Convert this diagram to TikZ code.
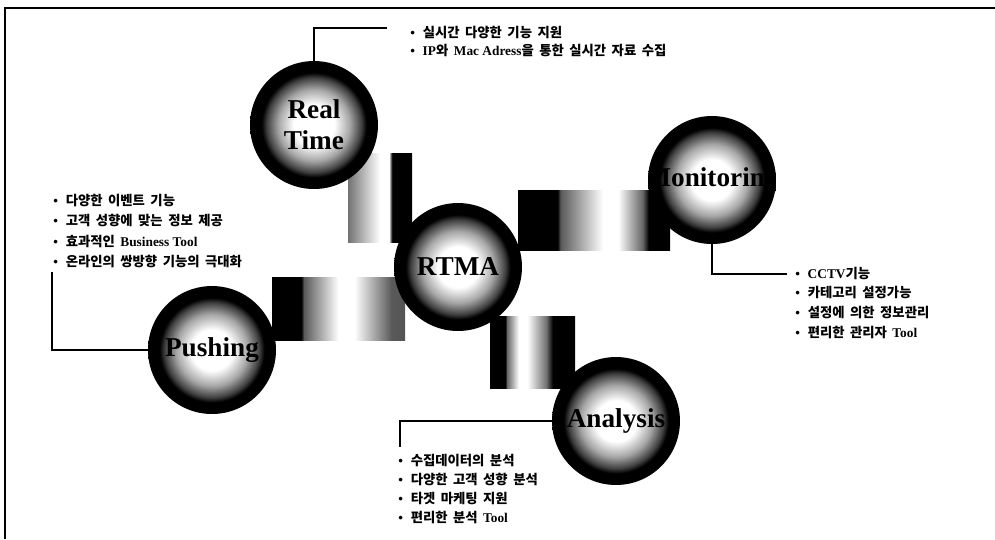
\documentclass[tikz,border=0pt]{standalone}
\usepackage{fontspec}
\setmainfont{Liberation Serif}
\newfontfamily\kor{Noto Sans CJK KR}[WordSpace=1.8]
\newcommand\lat[1]{{\rmfamily\bfseries #1}}

% glow inside the black discs
\pgfdeclareradialshading{glow}{\pgfpoint{0bp}{0bp}}{color(0bp)=(white); color(8bp)=(white); color(14bp)=(black!35); color(18.5bp)=(black!75); color(20.5bp)=(black); color(50bp)=(black)}
% the four connecting bars
\pgfdeclarehorizontalshading{bara}{100bp}{color(0bp)=(black!55); color(25bp)=(black!55); color(50bp)=(white); color(57bp)=(white); color(59.5bp)=(black); color(100bp)=(black)}
\pgfdeclarehorizontalshading{barb}{100bp}{color(0bp)=(black); color(38bp)=(black); color(39bp)=(black!65); color(53bp)=(white); color(58bp)=(white); color(66bp)=(black!60); color(68bp)=(black); color(100bp)=(black)}
\pgfdeclarehorizontalshading{barc}{100bp}{color(0bp)=(black); color(36bp)=(black); color(37bp)=(black!65); color(50bp)=(white); color(56bp)=(white); color(70bp)=(black!65); color(100bp)=(black!75)}
\pgfdeclarehorizontalshading{bard}{100bp}{color(0bp)=(black); color(34bp)=(black); color(35bp)=(black!60); color(42bp)=(white); color(47bp)=(white); color(58bp)=(black!55); color(62bp)=(black); color(100bp)=(black)}

\begin{document}
\begin{tikzpicture}[x=0.02cm,y=-0.02cm,
    ball/.style={circle,shade,shading=glow,minimum size=2.56cm,inner sep=0pt,
      path picture={\node[align=center,inner sep=0pt,
        font=\fontsize{15.5}{17.6}\selectfont\bfseries] at (path picture bounding box.center) {#1};}},
    item/.style={anchor=base west,inner sep=0pt,font=\fontsize{7.6}{9}\selectfont\kor\bfseries},
    lead/.style={line width=0.6pt}]
    \useasboundingbox (0,0) rectangle (995,539);
    % frame
    \draw[line width=1.2pt] (5,539) -- (5,8) -- (995,8);

    % bars between the discs
    \shade[shading=bara] (348,153) rectangle (412,242);
    \shade[shading=barb] (518,190) rectangle (670,250);
    \shade[shading=barc] (272,277) rectangle (405,340);
    \shade[shading=bard] (490,316) rectangle (575,388);

    % discs
    \node[ball={Real\\Time}] (rt) at (314,125) {};
    \node[ball={RTMA}] (rtma) at (458,267) {};
    \node[ball={Monitoring}] (mon) at (712,180) {};
    \node[ball={Pushing}] (push) at (212,350) {};
    \node[ball={Analysis}] (ana) at (616,421) {};

    % leader lines
    \coordinate (rtend) at (387,28);
    \draw[lead] (rt.north) |- (rtend);
    \coordinate (monend) at (787,274);
    \draw[lead] (mon.south) |- (monend);
    \coordinate (pushtop) at (52,272);
    \draw[lead] (pushtop) |- (push.west);
    \coordinate (anaend) at (400,447);
    \draw[lead] (ana.west) -| (anaend);

    % lists
    \foreach \txt [count=\i from 0] in {{\lat{•}\, 실시간 다양한 기능 지원},
        {\lat{•}\, \lat{IP}와 \lat{Mac Adress}을 통한 실시간 자료 수집}}
      \node[item] (rtl\i) at (410,37+18*\i) {\txt};
    \foreach \txt [count=\i from 0] in {{\lat{•}\, 다양한 이벤트 기능},
        {\lat{•}\, 고객 성향에 맞는 정보 제공},
        {\lat{•}\, 효과적인 \lat{Business Tool}},
        {\lat{•}\, 온라인의 쌍방향 기능의 극대화}}
      \node[item] (pul\i) at (53,205+20.5*\i) {\txt};
    \foreach \txt [count=\i from 0] in {{\lat{•}\, \lat{CCTV}기능},
        {\lat{•}\, 카테고리 설정가능},
        {\lat{•}\, 설정에 의한 정보관리},
        {\lat{•}\, 편리한 관리자 \lat{Tool}}}
      \node[item] (mol\i) at (795,278+19.7*\i) {\txt};
    \foreach \txt [count=\i from 0] in {{\lat{•}\, 수집데이터의 분석},
        {\lat{•}\, 다양한 고객 성향 분석},
        {\lat{•}\, 타겟 마케팅 지원},
        {\lat{•}\, 편리한 분석 \lat{Tool}}}
      \node[item] (anl\i) at (398,465+19.3*\i) {\txt};
\end{tikzpicture}
\end{document}
